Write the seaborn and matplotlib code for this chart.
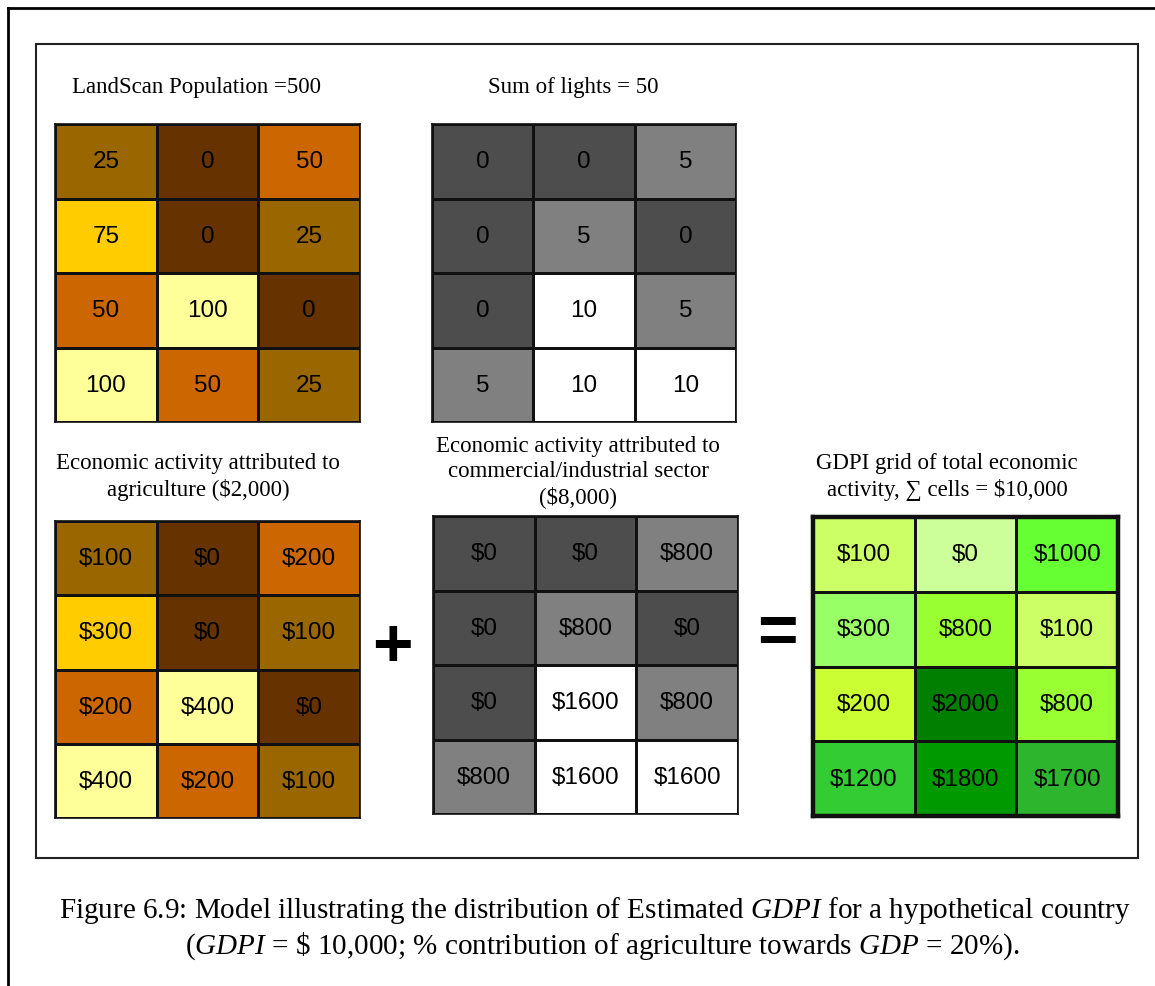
"""
plot.py

Grid model of how estimated GDPI is spread over cells of a hypothetical country.
"""

import matplotlib
matplotlib.use("Agg")
import matplotlib.pyplot as plt
from matplotlib.colors import ListedColormap
from matplotlib.lines import Line2D
from matplotlib.patches import Rectangle
import seaborn as sns

# =========================
# DATA
# =========================

population = [[25, 0, 50], [75, 0, 25], [50, 100, 0], [100, 50, 25]]
lights = [[0, 0, 5], [0, 5, 0], [0, 10, 5], [5, 10, 10]]
agriculture = [[100, 0, 200], [300, 0, 100], [200, 400, 0], [400, 200, 100]]
commercial = [[0, 0, 800], [0, 800, 0], [0, 1600, 800], [800, 1600, 1600]]
gdpi = [[100, 0, 1000], [300, 800, 100], [200, 2000, 800], [1200, 1800, 1700]]

population_levels = [0, 25, 50, 75, 100]
lights_levels = [0, 5, 10]
agriculture_levels = [0, 100, 200, 300, 400]
commercial_levels = [0, 800, 1600]
gdpi_levels = [0, 100, 200, 300, 800, 1000, 1200, 1700, 1800, 2000]

# colours, one per level
brown_colors = ["#663300", "#996600", "#CC6600", "#FFCC00", "#FFFF99"]
grey_colors = ["#4D4D4D", "#808080", "#FFFFFF"]
green_colors = ["#CCFF99", "#CCFF66", "#CCFF33", "#99FF66", "#99FF33",
                "#66FF33", "#33CC33", "#2DB52D", "#009900", "#007F00"]

W, H = 1155, 987


def fx(x):
    return x / W


def fy(y):
    return 1 - y / H


def add_grid(fig, box, values, levels, colors, labels, border=1.2):
    x0, y0, x1, y1 = box
    ax = fig.add_axes([fx(x0), fy(y1), (x1 - x0) / W, (y1 - y0) / H])
    idx = [[levels.index(v) for v in row] for row in values]
    sns.heatmap(idx, ax=ax, cmap=ListedColormap(colors), vmin=-0.5,
                vmax=len(colors) - 0.5, annot=labels, fmt="", cbar=False,
                linewidths=1.0, linecolor="#111111",
                xticklabels=False, yticklabels=False,
                annot_kws={"color": "black", "fontsize": 17.5,
                           "family": "Liberation Sans"})
    for sp in ax.spines.values():
        sp.set_visible(True)
        sp.set_linewidth(border)
        sp.set_color("#111111")
    return ax


fig = plt.figure(figsize=(W / 100, H / 100), dpi=100)
plt.rcParams["mathtext.fontset"] = "custom"
plt.rcParams["mathtext.rm"] = "Liberation Serif"
plt.rcParams["mathtext.it"] = "Liberation Serif:italic"

serif = ["Liberation Serif", "DejaVu Serif"]

# page frame and inner box
fig.add_artist(Line2D([fx(8), fx(8)], [fy(9), 0], color="black", lw=2))
fig.add_artist(Line2D([fx(8), 1], [fy(9), fy(9)], color="black", lw=2))
fig.add_artist(Rectangle((fx(36), fy(859)), (1138 - 36) / W, (859 - 45) / H,
                         fill=False, edgecolor="#222222", lw=1.5))

dollars = lambda grid: [[f"${v}" for v in row] for row in grid]

add_grid(fig, (55, 125, 360, 423), population, population_levels,
         brown_colors, [[str(v) for v in row] for row in population])
add_grid(fig, (432, 125, 736, 423), lights, lights_levels,
         grey_colors, [[str(v) for v in row] for row in lights])
add_grid(fig, (55, 522, 360, 819), agriculture, agriculture_levels,
         brown_colors, dollars(agriculture))
add_grid(fig, (433, 517, 738, 815), commercial, commercial_levels,
         grey_colors, dollars(commercial))
add_grid(fig, (813, 518, 1118, 817), gdpi, gdpi_levels,
         green_colors, dollars(gdpi), border=3.2)

# panel titles
fig.text(fx(196), fy(87), "LandScan Population =500", family=serif,
         fontsize=16.5, ha="center", va="center")
fig.text(fx(573), fy(87), "Sum of lights = 50", family=serif,
         fontsize=16.5, ha="center", va="center")
fig.text(fx(198), fy(477), "Economic activity attributed to\nagriculture ($2,000)",
         family=serif, fontsize=16.5, ha="center", va="center",
         linespacing=1.27)
fig.text(fx(578), fy(472),
         "Economic activity attributed to\ncommercial/industrial sector\n($8,000)",
         family=serif, fontsize=16.5, ha="center", va="center",
         linespacing=1.22)
fig.text(fx(947), fy(477), "GDPI grid of total economic\nactivity, \u2211 cells = $10,000",
         family=serif, fontsize=16.5, ha="center", va="center",
         linespacing=1.27)

# operators
fig.text(fx(392), fy(641), "+", family="Liberation Sans", fontweight="bold",
         fontsize=50, ha="center", va="center_baseline")
fig.text(fx(777), fy(628), "=", family="Liberation Sans", fontweight="bold",
         fontsize=50, ha="center", va="center_baseline")

# caption
fig.text(fx(595), fy(911),
         r"Figure 6.9: Model illustrating the distribution of Estimated $\mathit{GDPI}$ for a hypothetical country",
         family=serif, fontsize=21, ha="center", va="center")
fig.text(fx(602), fy(946),
         r"($\mathit{GDPI}$ = \$ 10,000; % contribution of agriculture towards $\mathit{GDP}$ = 20%).",
         family=serif, fontsize=21, ha="center", va="center")

fig.savefig("out.png", dpi=100)
plt.close(fig)
